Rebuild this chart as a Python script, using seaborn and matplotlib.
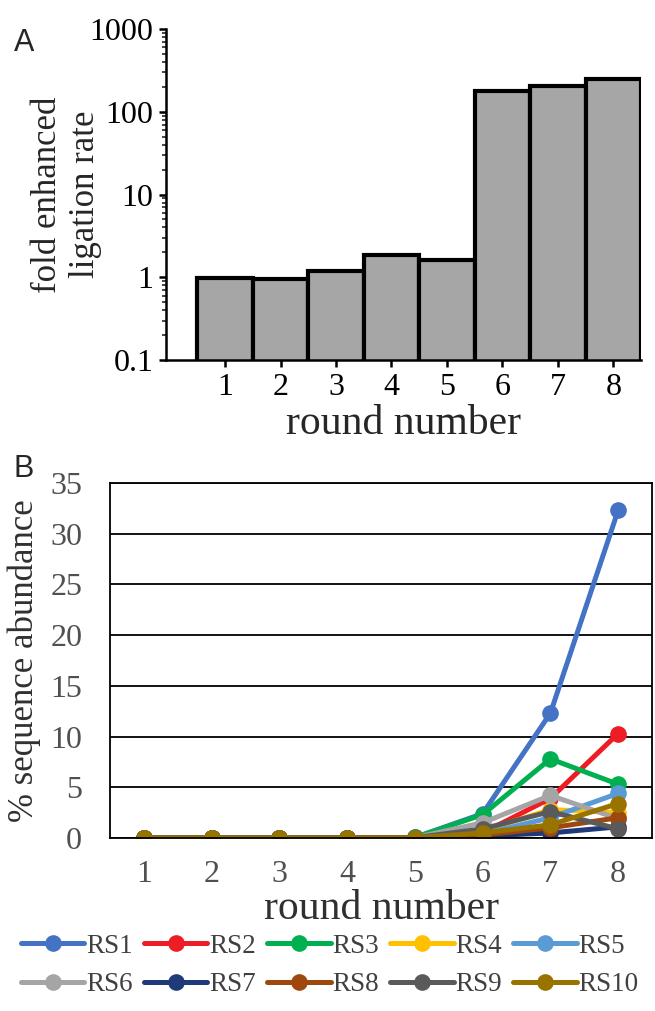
import pandas as pd
import matplotlib.pyplot as plt
import seaborn as sns
import numpy as np

# panel A: fold enhanced ligation rate per round
rounds = [1, 2, 3, 4, 5, 6, 7, 8]
fold_rate = [0.98, 0.95, 1.2, 1.87, 1.63, 177, 203, 250]

# panel B: % sequence abundance per round
seq_names = ["RS1", "RS2", "RS3", "RS4", "RS5", "RS6", "RS7", "RS8", "RS9", "RS10"]
rs1 = [0, 0, 0, 0, 0.05, 2.4, 12.3, 32.3]
rs2 = [0, 0, 0, 0, 0.02, 0.5, 3.9, 10.3]
rs3 = [0, 0, 0, 0, 0.05, 2.3, 7.8, 5.3]
rs4 = [0, 0, 0, 0, 0.02, 0.7, 2.8, 2.5]
rs5 = [0, 0, 0, 0, 0.02, 0.4, 2.0, 4.4]
rs6 = [0, 0, 0, 0, 0.03, 1.5, 4.2, 1.9]
rs7 = [0, 0, 0, 0, 0.01, 0.2, 0.5, 1.1]
rs8 = [0, 0, 0, 0, 0.02, 0.3, 1.0, 2.0]
rs9 = [0, 0, 0, 0, 0.03, 0.9, 2.6, 0.9]
rs10 = [0, 0, 0, 0, 0.02, 0.5, 1.3, 3.4]
colors = ["#4472C4", "#EE1C25", "#00B050", "#FFC000", "#5B9BD5",
          "#A5A5A5", "#1F3A78", "#9E480E", "#5A5A5A", "#997300"]

series = [rs1, rs2, rs3, rs4, rs5, rs6, rs7, rs8, rs9, rs10]
df = pd.DataFrame([(n, r, v) for n, vals in zip(seq_names, series) for r, v in zip(rounds, vals)],
                  columns=["seq", "round", "pct"])

sns.set_theme(style="white")
plt.rcParams['font.family'] = ['Liberation Serif', 'DejaVu Serif']

fig = plt.figure(figsize=(6.55, 10.11), dpi=100)

# ---- panel A
axA = fig.add_axes([166/655, 1-360/1011, (641-166)/655, (360-29)/1011])
sns.barplot(x=[str(r) for r in rounds], y=fold_rate, ax=axA, color="#A6A6A6",
            saturation=1, edgecolor="black", linewidth=3.0, width=1.0)
axA.set_yscale("log")
axA.set_ylim(0.1, 1000)
axA.set_xlim(-1.065, 7.5)
axA.set_yticks([0.1, 1, 10, 100, 1000], labels=["0.1", "1", "10", "100", "1000"])
axA.yaxis.set_minor_locator(plt.matplotlib.ticker.LogLocator(base=10, subs=np.arange(2, 10)))
axA.yaxis.set_minor_formatter(plt.NullFormatter())
for s in ["top", "right"]:
    axA.spines[s].set_visible(False)
for s in ["left", "bottom"]:
    axA.spines[s].set_linewidth(1.8)
    axA.spines[s].set_color("black")
axA.tick_params(axis="both", which="major", direction="out", length=5, width=1.8,
                labelsize=23, colors="black", left=True, bottom=True, pad=4)
axA.tick_params(axis="y", which="minor", direction="out", length=3, width=1.2, left=True)
axA.set_xlabel("round number", fontsize=30, labelpad=2)
axA.set_ylabel("fold enhanced\nligation rate", fontsize=25, linespacing=1.2)
axA.yaxis.set_label_coords(-0.135, 0.5)

# ---- panel B
axB = fig.add_axes([110/655, 1-838/1011, (652-110)/655, (838-483)/1011])
sns.lineplot(data=df, x="round", y="pct", hue="seq", palette=colors, marker="o",
             markersize=12, markeredgewidth=0, linewidth=3.6, ax=axB)
axB.set_xlim(0.5, 8.5)
axB.set_ylim(0, 35)
axB.set_xticks(rounds)
axB.set_yticks(range(0, 36, 5))
axB.grid(axis="y", color="black", linewidth=1.3)
axB.set_axisbelow(True)
for s in axB.spines.values():
    s.set_color("black")
    s.set_linewidth(1.3)
axB.tick_params(axis="both", length=0, labelsize=23, labelcolor="#505050")
axB.tick_params(axis="x", pad=16)
axB.tick_params(axis="y", pad=20)
axB.set_xlabel("round number", fontsize=30, color="#303030", labelpad=0)
axB.set_ylabel("% sequence abundance", fontsize=25, color="#303030")
axB.yaxis.set_label_coords(-0.128, 0.5)

handles, labels = axB.get_legend_handles_labels()
axB.get_legend().remove()
# legend fills column by column, so interleave rows
order = [0, 5, 1, 6, 2, 7, 3, 8, 4, 9]
fig.legend([handles[i] for i in order], [labels[i] for i in order], loc="center",
           bbox_to_anchor=(0.503, 0.045), ncol=5, frameon=False, fontsize=19.5,
           handlelength=2.35, handletextpad=0.05, columnspacing=0.42,
           labelspacing=0.5, labelcolor="#404040")

fig.text(14/655, 1-43/1011, "A", fontsize=22, family="Liberation Sans", va="center")
fig.text(14/655, 1-469/1011, "B", fontsize=22, family="Liberation Sans", va="center")

fig.savefig("out.png", dpi=100)
